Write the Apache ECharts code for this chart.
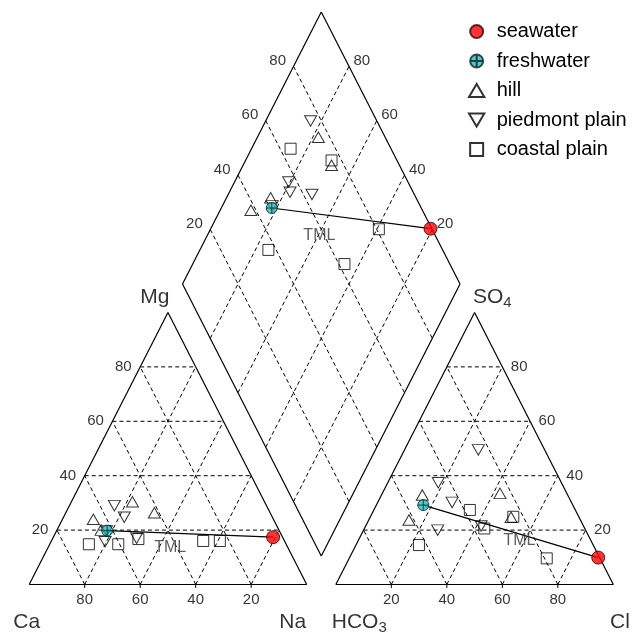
<!DOCTYPE html>
<html><head><meta charset="utf-8">
<script src="https://cdn.jsdelivr.net/npm/echarts@6/dist/echarts.min.js"></script>
<style>html,body{margin:0;padding:0;background:#fff}#c{width:644px;height:639px}</style>
</head><body><div id="c"></div>
<script>
// ---------------- DATA (percent of meq) ----------------
// cations: [Ca, Mg, Na]   anions: [HCO3, Cl, SO4]
const tickValues = [20, 40, 60, 80];
const seawaterCation = [3.4, 17.4, 79.2];
const seawaterAnion = [0.5, 89.6, 9.9];
const freshwaterCation = [62.0, 19.8, 18.2];
const freshwaterAnion = [53.9, 16.9, 29.2];
const hillCation = [[47.6, 30.4, 22.0], [41.7, 26.4, 31.9], [64.1, 20.0, 15.9], [64.9, 24.0, 11.1]];
const hillAnion = [[24.1, 42.4, 33.5], [24.5, 50.8, 24.7], [52.4, 14.7, 32.9], [61.8, 14.5, 23.7]];
const piedmontCation = [[54.9, 29.0, 16.2], [53.4, 24.7, 21.9], [64.8, 15.7, 19.5], [52.8, 17.0, 30.2], [62.3, 19.7, 18.0]];
const piedmontAnion = [[23.9, 26.6, 49.5], [44.4, 18.2, 37.4], [43.0, 26.8, 30.2], [36.9, 41.6, 21.5], [53.3, 26.7, 20.0]];
const coastalCation = [[71.1, 14.8, 14.1], [52.3, 16.7, 31.0], [23.3, 16.0, 60.7], [60.5, 14.8, 24.7], [29.3, 16.0, 54.7]];
const coastalAnion = [[36.2, 43.2, 20.6], [23.6, 51.5, 24.9], [19.2, 71.2, 9.6], [62.8, 22.7, 14.5], [38.0, 34.6, 27.4]];

// ---------------- LAYOUT ----------------
const GAP = 10.5, H = Math.sqrt(3) / 2;
const XMAX = 200 + GAP, YMAX = (200 + GAP) * H;
const PXX = 2.775, PXY = 3.141;
const GL = 29.2, GB = 584.5;
const FONT = 'Liberation Sans, Arial, sans-serif';

function cat(c) { return [c[2] + c[1] / 2, c[1] * H]; }             // Ca,Mg,Na
function an(a) { return [100 + GAP + a[1] + a[2] / 2, a[2] * H]; }  // HCO3,Cl,SO4
function dia(na, hc) { return [(na + 200 + GAP - hc) / 2, H * (200 + GAP - hc - na)]; }
function diaS(c, a) { return dia(c[2], a[0]); }
function lerp(p, q, t) { return [p[0] + (q[0] - p[0]) * t, p[1] + (q[1] - p[1]) * t]; }

// segments
const outline = [], grid = [], ticksSeg = [];
function seg(arr, p, q) { arr.push([p[0], p[1], q[0], q[1]]); }
const cA = cat([100, 0, 0]), cB = cat([0, 0, 100]), cC = cat([0, 100, 0]);
seg(outline, cA, cB); seg(outline, cB, cC); seg(outline, cC, cA);
const aA = an([100, 0, 0]), aB = an([0, 100, 0]), aC = an([0, 0, 100]);
seg(outline, aA, aB); seg(outline, aB, aC); seg(outline, aC, aA);
const dB = dia(100, 100), dL = dia(0, 100), dT = dia(0, 0), dR = dia(100, 0);
seg(outline, dB, dL); seg(outline, dL, dT); seg(outline, dT, dR); seg(outline, dR, dB);
tickValues.forEach(v => {
  seg(grid, cat([100 - v, v, 0]), cat([0, v, 100 - v]));
  seg(grid, cat([v, 0, 100 - v]), cat([v, 100 - v, 0]));
  seg(grid, cat([100 - v, 0, v]), cat([0, 100 - v, v]));
  seg(grid, an([100 - v, 0, v]), an([0, 100 - v, v]));
  seg(grid, an([v, 100 - v, 0]), an([v, 0, 100 - v]));
  seg(grid, an([100 - v, v, 0]), an([0, v, 100 - v]));
  seg(grid, dia(v, 100), dia(v, 0));
  seg(grid, dia(0, v), dia(100, v));
  const pc = cat([100 - v, 0, v]); seg(ticksSeg, [pc[0], 0.3], [pc[0], -1.1]);
  const pa = an([100 - v, v, 0]); seg(ticksSeg, [pa[0], 0.3], [pa[0], -1.1]);
});
const tmlSeg = [];
seg(tmlSeg, cat(freshwaterCation), cat(seawaterCation));
seg(tmlSeg, an(freshwaterAnion), an(seawaterAnion));
seg(tmlSeg, diaS(freshwaterCation, freshwaterAnion), diaS(seawaterCation, seawaterAnion));

function lineSeries(data, style, z) {
  return {
    type: 'custom', silent: true, z: z, clip: false,
    encode: { x: [0, 2], y: [1, 3] },
    data: data,
    renderItem: function (params, api) {
      const a = api.coord([api.value(0), api.value(1)]);
      const b = api.coord([api.value(2), api.value(3)]);
      return { type: 'line', shape: { x1: a[0], y1: a[1], x2: b[0], y2: b[1] }, style: style };
    }
  };
}

function labelSeries(items, labelOpt, z) {
  return {
    type: 'scatter', silent: true, z: z || 6, clip: false,
    symbolSize: 1, itemStyle: { color: 'rgba(0,0,0,0)' },
    data: items.map(it => ({ name: it[0], value: it[1] })),
    label: Object.assign({ show: true, formatter: '{b}', color: '#000', fontFamily: FONT, fontSize: 15 }, labelOpt)
  };
}

const cBottom = tickValues.map(v => [String(v), cat([v, 0, 100 - v])]);
const cLeft = tickValues.map(v => [String(v), cat([100 - v, v, 0])]);
const aBottom = tickValues.map(v => [String(v), an([100 - v, v, 0])]);
const aRight = tickValues.map(v => [String(v), an([0, 100 - v, v])]);
const dLeft = tickValues.map(v => [String(v), dia(0, 100 - v)]);
const dRight = tickValues.map(v => [String(v), dia(100 - v, 0)]);

const fw = cat(freshwaterCation), sw = cat(seawaterCation);
const fwa = an(freshwaterAnion), swa = an(seawaterAnion);
const fwd = diaS(freshwaterCation, freshwaterAnion), swd = diaS(seawaterCation, seawaterAnion);

const cornerRich = {
  m: { fontSize: 21, fontFamily: FONT, color: '#000' },
  s: { fontSize: 15, fontFamily: FONT, color: '#000', padding: [12, 0, 0, 0] }
};

const UP = 'path://M10,0 L20,17 L0,17 Z';
const DOWN = 'path://M0,0 L20,0 L10,17 Z';
const SQ = 'path://M0,0 L20,0 L20,20 L0,20 Z';
const FRESH = 'path://M10,0 A10,10 0 1,1 10,20 A10,10 0 1,1 10,0 Z M0,10 L20,10 M10,0 L10,20';

const hollow = { color: 'rgba(255,255,255,0)', borderColor: '#000', borderWidth: 1 };

const option = {
  animation: false,
  backgroundColor: '#fff',
  textStyle: { fontFamily: FONT },
  grid: { left: GL, top: GB - YMAX * PXY, width: XMAX * PXX, height: YMAX * PXY, containLabel: false },
  xAxis: { type: 'value', min: 0, max: XMAX, show: false },
  yAxis: { type: 'value', min: 0, max: YMAX, show: false },
  legend: {
    orient: 'vertical', left: 463, top: 16.5, itemWidth: 30, itemHeight: 13, itemGap: 9.5,
    textStyle: { fontSize: 20, lineHeight: 20, color: '#000', fontFamily: FONT },
    data: ['seawater', 'freshwater', 'hill', 'piedmont plain', 'coastal plain']
  },
  series: [
    lineSeries(grid, { stroke: '#000', lineWidth: 1, lineDash: [4, 3] }, 1),
    lineSeries(outline, { stroke: '#000', lineWidth: 1.2 }, 2),
    lineSeries(ticksSeg, { stroke: '#000', lineWidth: 1 }, 2),
    lineSeries(tmlSeg, { stroke: '#000', lineWidth: 1.2 }, 3),
    {
      name: 'hill', type: 'scatter', z: 4, symbol: UP, symbolSize: [12, 10.5], itemStyle: hollow,
      data: hillCation.map(cat).concat(hillAnion.map(an), hillCation.map((c, i) => diaS(c, hillAnion[i])))
    },
    {
      name: 'piedmont plain', type: 'scatter', z: 4, symbol: DOWN, symbolSize: [12, 10.5], itemStyle: hollow,
      data: piedmontCation.map(cat).concat(piedmontAnion.map(an), piedmontCation.map((c, i) => diaS(c, piedmontAnion[i])))
    },
    {
      name: 'coastal plain', type: 'scatter', z: 4, symbol: SQ, symbolSize: [11, 11], itemStyle: hollow,
      data: coastalCation.map(cat).concat(coastalAnion.map(an), coastalCation.map((c, i) => diaS(c, coastalAnion[i])))
    },
    {
      name: 'freshwater', type: 'scatter', z: 5, symbol: FRESH, symbolSize: 11,
      itemStyle: { color: '#19c3c3', borderColor: '#1a1a1a', borderWidth: 1 },
      data: [fw, fwa, fwd]
    },
    {
      name: 'seawater', type: 'scatter', z: 5, symbol: 'circle', symbolSize: 13,
      itemStyle: { color: '#ff0000', borderColor: '#3a0000', borderWidth: 1 },
      data: [sw, swa, swd]
    },
    labelSeries(cBottom, { position: 'inside', offset: [0, 15.5] }),
    labelSeries(aBottom, { position: 'inside', offset: [0, 15.5] }),
    labelSeries(cLeft, { position: 'left', distance: 8 }),
    labelSeries(aRight, { position: 'right', distance: 8 }),
    labelSeries(dLeft, { position: 'left', distance: 7, offset: [0, -5.5] }),
    labelSeries(dRight, { position: 'right', distance: 4, offset: [0, -5.5] }),
    labelSeries([['TML', lerp(fw, sw, 0.38)]], { position: 'inside', offset: [0, 14.4], fontSize: 16, color: '#333' }),
    labelSeries([['TML', lerp(fwd, swd, 0.30)]], { position: 'inside', offset: [0, 21.6], fontSize: 16, color: '#333' }),
    labelSeries([['TML', lerp(fwa, swa, 0.55)]], { position: 'inside', offset: [0, 6.8], fontSize: 16, color: '#333' }),
    labelSeries([['Ca', cA]], { position: 'inside', offset: [-2.5, 37.5], fontSize: 21 }),
    labelSeries([['Na', cB]], { position: 'inside', offset: [-14, 37.5], fontSize: 21 }),
    labelSeries([['Mg', cC]], { position: 'inside', offset: [-13, -15.5], fontSize: 21 }),
    labelSeries([['Cl', aB]], { position: 'inside', offset: [6.7, 37.5], fontSize: 21 }),
    labelSeries([['SO4', aC]], { position: 'inside', offset: [17.7, -15.5], formatter: '{m|SO}{s|4}', rich: cornerRich }),
    labelSeries([['HCO3', aA]], { position: 'inside', offset: [23.4, 37.5], formatter: '{m|HCO}{s|3}', rich: cornerRich })
  ]
};
const chart = echarts.init(document.getElementById('c'), null, { renderer: 'canvas' });
chart.setOption(option);
</script>
</body></html>
